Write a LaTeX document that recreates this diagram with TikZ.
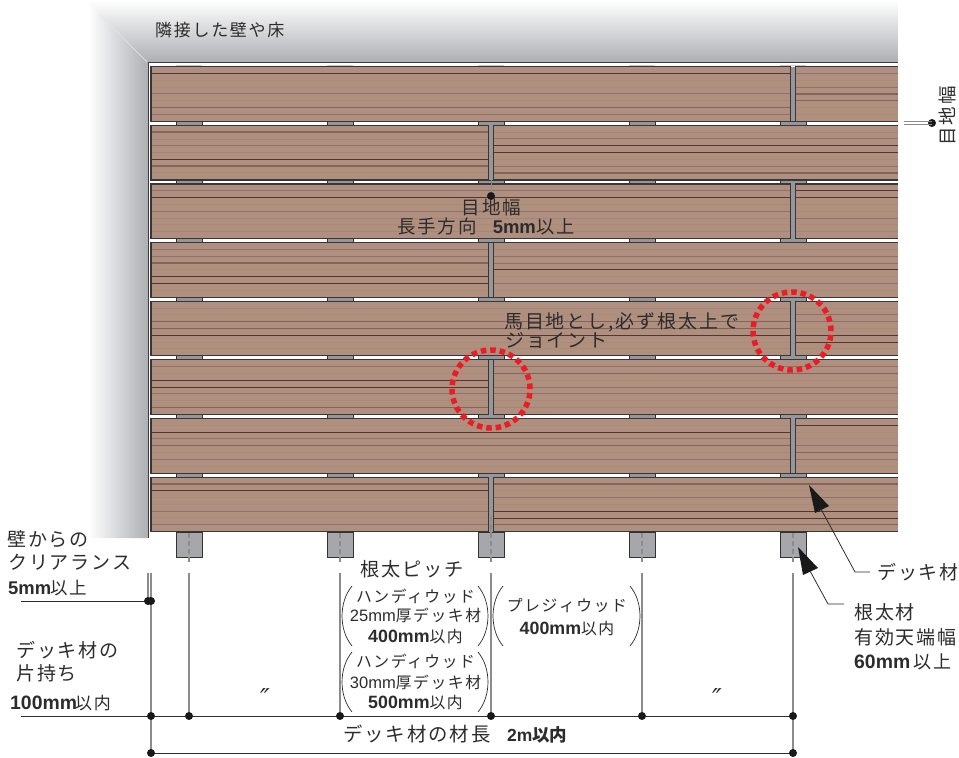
\documentclass[tikz,border=0pt]{standalone}
\usepackage{fontspec}
\setmainfont{Noto Sans CJK JP}
\newfontfamily\jp[LetterSpace=10]{Noto Sans CJK JP}
\newfontfamily\lat{Liberation Sans}
\newfontfamily\sym{DejaVu Sans}
\definecolor{planktone}{HTML}{AF9080}
\definecolor{inkc}{HTML}{2E2B2B}
\definecolor{wallc}{HTML}{ADAFB3}
\definecolor{joistc}{HTML}{A6A7AA}
\definecolor{tabc}{HTML}{96979A}
\definecolor{redc}{HTML}{ED1C24}
\definecolor{grd}{RGB}{84,54,44}
\definecolor{grM}{RGB}{132,100,88}
\definecolor{grm}{RGB}{146,112,100}
\definecolor{grt}{RGB}{172,140,110}
\definecolor{grl}{RGB}{164,134,120}
\tikzset{
  gd/.style={color=grd,line width=.8pt},
  gM/.style={color=grM,line width=1.3pt},
  gm/.style={color=grm,line width=.9pt},
  gt/.style={color=grt,line width=.9pt},
  gl/.style={color=grl,line width=.8pt},
  plankedge/.style={draw={rgb,255:red,58;green,54;blue,54},line width=1.1pt},
  tabbox/.style={fill=tabc,draw={rgb,255:red,50;green,50;blue,50},line width=.9pt},
  joistbox/.style={fill=joistc,draw={rgb,255:red,50;green,50;blue,50},line width=1pt},
  centerline/.style={draw=gray!90,line width=1.1pt},
  dimline/.style={draw=inkc,line width=.9pt},
  leaderline/.style={draw=inkc,line width=.8pt},
  dotmark/.style={fill=black!90,circle,inner sep=0pt,minimum size=8pt},
  lbl/.style={inner sep=0pt,text=inkc,anchor=west},
  lblc/.style={inner sep=0pt,text=inkc,anchor=center,align=center},
  paren/.style={draw=inkc,line width=.7pt},
  reddots/.style={draw=redc,line width=5.5pt,dash pattern=on 5.5pt off 3.92pt},
}
\newcommand{\J}[2]{{\fontsize{#1}{#1}\selectfont\jp #2}}
\newcommand{\B}[2]{{\fontsize{#1}{#1}\selectfont\lat\bfseries #2}}
\newcommand{\plank}[4]{%
  \pgfmathsetmacro\ptop{66.7+58.63*#3}%
  \pgfmathsetmacro\pbot{\ptop+54.7}%
  \fill[planktone] (#1,\ptop) rectangle (#2,\pbot);
  \foreach \c [count=\k] in {#4} {
    \pgfmathsetmacro\yy{\ptop+6.8*\k}
    \draw[\c] (#1,\yy) -- (#2,\yy);
  }
  \ifdim#2pt>897pt
    \draw[plankedge] (#2,\ptop) -- (#1,\ptop) -- (#1,\pbot) -- (#2,\pbot);
  \else
    \draw[plankedge] (#1,\ptop) rectangle (#2,\pbot);
  \fi
}
\newcommand{\bowcurve}[4]{\draw[paren] (#1,#3) .. controls (#2,{#3+16}) and (#2,{#4-16}) .. (#1,#4);}
\begin{document}
\begin{tikzpicture}[x=1pt,y=-1pt]
\useasboundingbox (0,0) rectangle (959,758);
% wall
\shade[top color=white,bottom color=wallc,shading angle=0] (88,0) -- (898,0) -- (898,62) -- (148,62) -- cycle;
\shade[left color=white,right color=wallc] (88,0) -- (148,62) -- (148,538) -- (88,538) -- cycle;
\draw[white!80!gray,line width=.5pt] (100,15) -- (147,62);
\fill[white] (148,62) rectangle (898,533);
\draw[draw={rgb,255:red,60;green,60;blue,60},line width=1pt] (898,62.5) -- (148,62.5) -- (148,538);
% joists
\foreach \x/\n in {189/a,340/b,491/c,642/d,793/e} {
  \draw[gray!40,line width=.8pt] (\x-13,65) -- (\x+13,65);
  \draw[joistbox] (\x-13,532) rectangle (\x+13,557);
  \foreach \r in {0,...,6} {
    \pgfmathsetmacro\ya{66.7+58.63*\r+54.7}
    \pgfmathsetmacro\yb{\ya+3.93}
    \draw[tabbox] (\x-13,\ya) rectangle (\x+13,\yb);
  }
  \draw[centerline,dashed,dash pattern=on 5pt off 3pt] (\x,533) -- (\x,563);
  \coordinate (top\n) at (\x,573);
  \coordinate (low\n) at (\x,716);
}
% joints
\foreach \r in {1,3,5,7} {
  \pgfmathsetmacro\ya{66.7+58.63*\r}\pgfmathsetmacro\yb{\ya+54.7}
  \fill[tabc] (488.5,\ya) rectangle (493.5,\yb);
}
\foreach \r in {0,2,4,6} {
  \pgfmathsetmacro\ya{66.7+58.63*\r}\pgfmathsetmacro\yb{\ya+54.7}
  \fill[tabc] (790.5,\ya) rectangle (795.5,\yb);
}
% planks
\plank{151}{790.5}{0}{gd,gt,gt,gm,gt,gM,gm}
\plank{795.5}{898}{0}{gm,gt,gm,gM,gM,gt,gt}
\plank{151}{488.5}{1}{gM,gl,gm,gl,gd,gM,gt}
\plank{493.5}{898}{1}{gl,gm,gd,gd,gt,gm,gM}
\plank{151}{790.5}{2}{gm,gd,gt,gm,gl,gt,gl}
\plank{795.5}{898}{2}{gd,gd,gt,gt,gm,gt,gl}
\plank{151}{488.5}{3}{gm,gm,gM,gt,gd,gd,gt}
\plank{493.5}{898}{3}{gl,gm,gm,gd,gt,gm,gt}
\plank{151}{790.5}{4}{gl,gt,gM,gM,gd,gt,gt}
\plank{795.5}{898}{4}{gt,gm,gm,gt,gd,gd,gt}
\plank{151}{488.5}{5}{gm,gt,gd,gd,gm,gt,gM}
\plank{493.5}{898}{5}{gm,gM,gt,gm,gm,gt,gl}
\plank{151}{790.5}{6}{gt,gd,gm,gM,gt,gm,gt}
\plank{795.5}{898}{6}{gd,gt,gt,gm,gM,gm,gt}
\plank{151}{488.5}{7}{gM,gd,gt,gt,gm,gt,gm}
\plank{493.5}{898}{7}{gM,gt,gm,gt,gd,gd,gM}
\draw[centerline,dashed,dash pattern=on 5pt off 3pt] (491,516) -- (491,533);
% dimension guides
\foreach \n in {a,b,c,d} \draw[centerline] (top\n) -- (low\n);
\coordinate (tope) at (793,573);
\coordinate (dime) at (793,753);
\coordinate (dima) at (151,753);
\coordinate (guideA) at (148,573);
\coordinate (guideB) at (151,573);
\coordinate (clearA) at (148,601);
\coordinate (clearB) at (151,601);
\coordinate (lowz) at (151,716);
\coordinate (leftA) at (21,601);
\coordinate (leftB) at (21,716);
\draw[centerline] (tope) -- (dime);
\draw[centerline] (guideB) -- (dima);
\draw[centerline] (guideA) -- (clearA);
\draw[dimline] (leftA) -- (clearB);
\draw[dimline] (leftB) -- (lowe);
\draw[dimline] (dima) -- (dime);
\foreach \c in {clearA,clearB,lowz,lowa,lowb,lowc,lowd,lowe,dima,dime}
  \node[dotmark] (dot\c) at (\c) {};
% gap labels
\coordinate (gapA) at (904,121.3);
\coordinate (gapB) at (904,124.2);
\node[dotmark] (gapdot) at (932,123) {};
\draw[centerline,line width=.9pt] (gapA) -- (932,121.3);
\draw[centerline,line width=.9pt] (gapB) -- (932,124.2);
\node[dotmark] (jointdot) at (491,196) {};
\coordinate (jointtop) at (491,180);
\draw[centerline,line width=.8pt] (jointtop) -- (jointdot);
% red circles
\coordinate (redA) at (491,389);
\coordinate (redB) at (792,331);
\draw[reddots] (redA) circle[radius=39pt];
\draw[reddots] (redB) circle[radius=39pt];
% leaders
\coordinate (deckTip) at (809,485);
\coordinate (deckKnee) at (855,572);
\coordinate (joistTip) at (798,547);
\coordinate (joistKnee) at (828,604);
\fill[black!90] (deckTip) -- (829,506) -- (815,513) -- cycle;
\fill[black!90] (joistTip) -- (818,568) -- (803,575) -- cycle;
\draw[leaderline] (821,509) -- (deckKnee) -- (870,572);
\draw[leaderline] (810,571) -- (joistKnee) -- (844,604);
% parens
\bowcurve{352}{338.7}{586}{646}
\bowcurve{478}{491.3}{586}{646}
\bowcurve{352}{338.7}{652}{712}
\bowcurve{478}{491.3}{652}{712}
\bowcurve{503}{489.7}{586}{646}
\bowcurve{630}{643.3}{586}{646}
% texts
\node[lbl] (t1) at (155,30) {\J{17}{隣接した壁や床}};
\node[lblc,rotate=90] (t2) at (947,116) {\J{18.5}{目地幅}};
\node[lblc] (t3) at (491.5,207) {\J{18.5}{目地幅}};
\node[lbl] (t4) at (397,226) {\J{18.5}{長手方向}\hspace{16pt}\B{18.5}{5mm}\hspace{1pt}\J{18.2}{以上}};
\node[lbl] (t5) at (504,322) {\J{19}{馬目地とし,必ず根太上で}};
\node[lbl] (t6) at (505,340) {\J{19}{ジョイント}};
\node[lbl] (t7) at (7,539) {\J{19}{壁からの}};
\node[lbl] (t8) at (8,562) {\J{19}{クリアランス}};
\node[lbl] (t9) at (8,588) {\B{18.4}{5mm}\hspace{-1pt}\J{17.5}{以上}};
\node[lbl] (t10) at (16,650) {\J{19}{デッキ材の}};
\node[lbl] (t11) at (16,673) {\J{19}{片持ち}};
\node[lbl] (t12) at (10,703) {\B{19.4}{100mm}\hspace{-2pt}\J{17}{以内}};
\node[lbl] (t13) at (360,569) {\J{19.2}{根太ピッチ}};
\node[lblc] (t14) at (415.5,596) {\J{15.8}{ハンディウッド}};
\node[lblc] (t15) at (415.5,615) {{\fontsize{16.5}{16.5}\selectfont\lat 25mm}\J{15.8}{厚デッキ材}};
\node[lblc] (t16) at (415.5,637) {\B{17.8}{400mm}\J{15.8}{以内}};
\node[lblc] (t17) at (415.5,661) {\J{15.8}{ハンディウッド}};
\node[lblc] (t18) at (415.5,682) {{\fontsize{16.5}{16.5}\selectfont\lat 30mm}\J{15.8}{厚デッキ材}};
\node[lblc] (t19) at (415.5,703) {\B{17.8}{500mm}\J{15.8}{以内}};
\node[lblc] (t20) at (567,606) {\J{15.8}{プレジィウッド}};
\node[lblc] (t21) at (567,629) {\B{17.8}{400mm}\J{15.8}{以内}};
\node[lblc] (t22) at (265,698) {{\fontsize{26}{26}\selectfont\sym\itshape ″}};
\node[lblc] (t23) at (717,698) {{\fontsize{26}{26}\selectfont\sym\itshape ″}};
\node[lbl] (t24) at (343,734) {\J{19.4}{デッキ材の材長}};
\node[lbl] (t25) at (507,735) {\B{17.5}{2m}{\fontsize{17.5}{17.5}\selectfont\bfseries 以内}};
\node[lbl] (t26) at (877,572) {\J{19}{デッキ材}};
\node[lbl] (t27) at (854,612) {\J{19}{根太材}};
\node[lbl] (t28) at (854,637) {\J{19}{有効天端幅}};
\node[lbl] (t29) at (854,662) {\B{19.4}{60mm}\hspace{3pt}\J{18}{以上}};
\end{tikzpicture}
\end{document}
